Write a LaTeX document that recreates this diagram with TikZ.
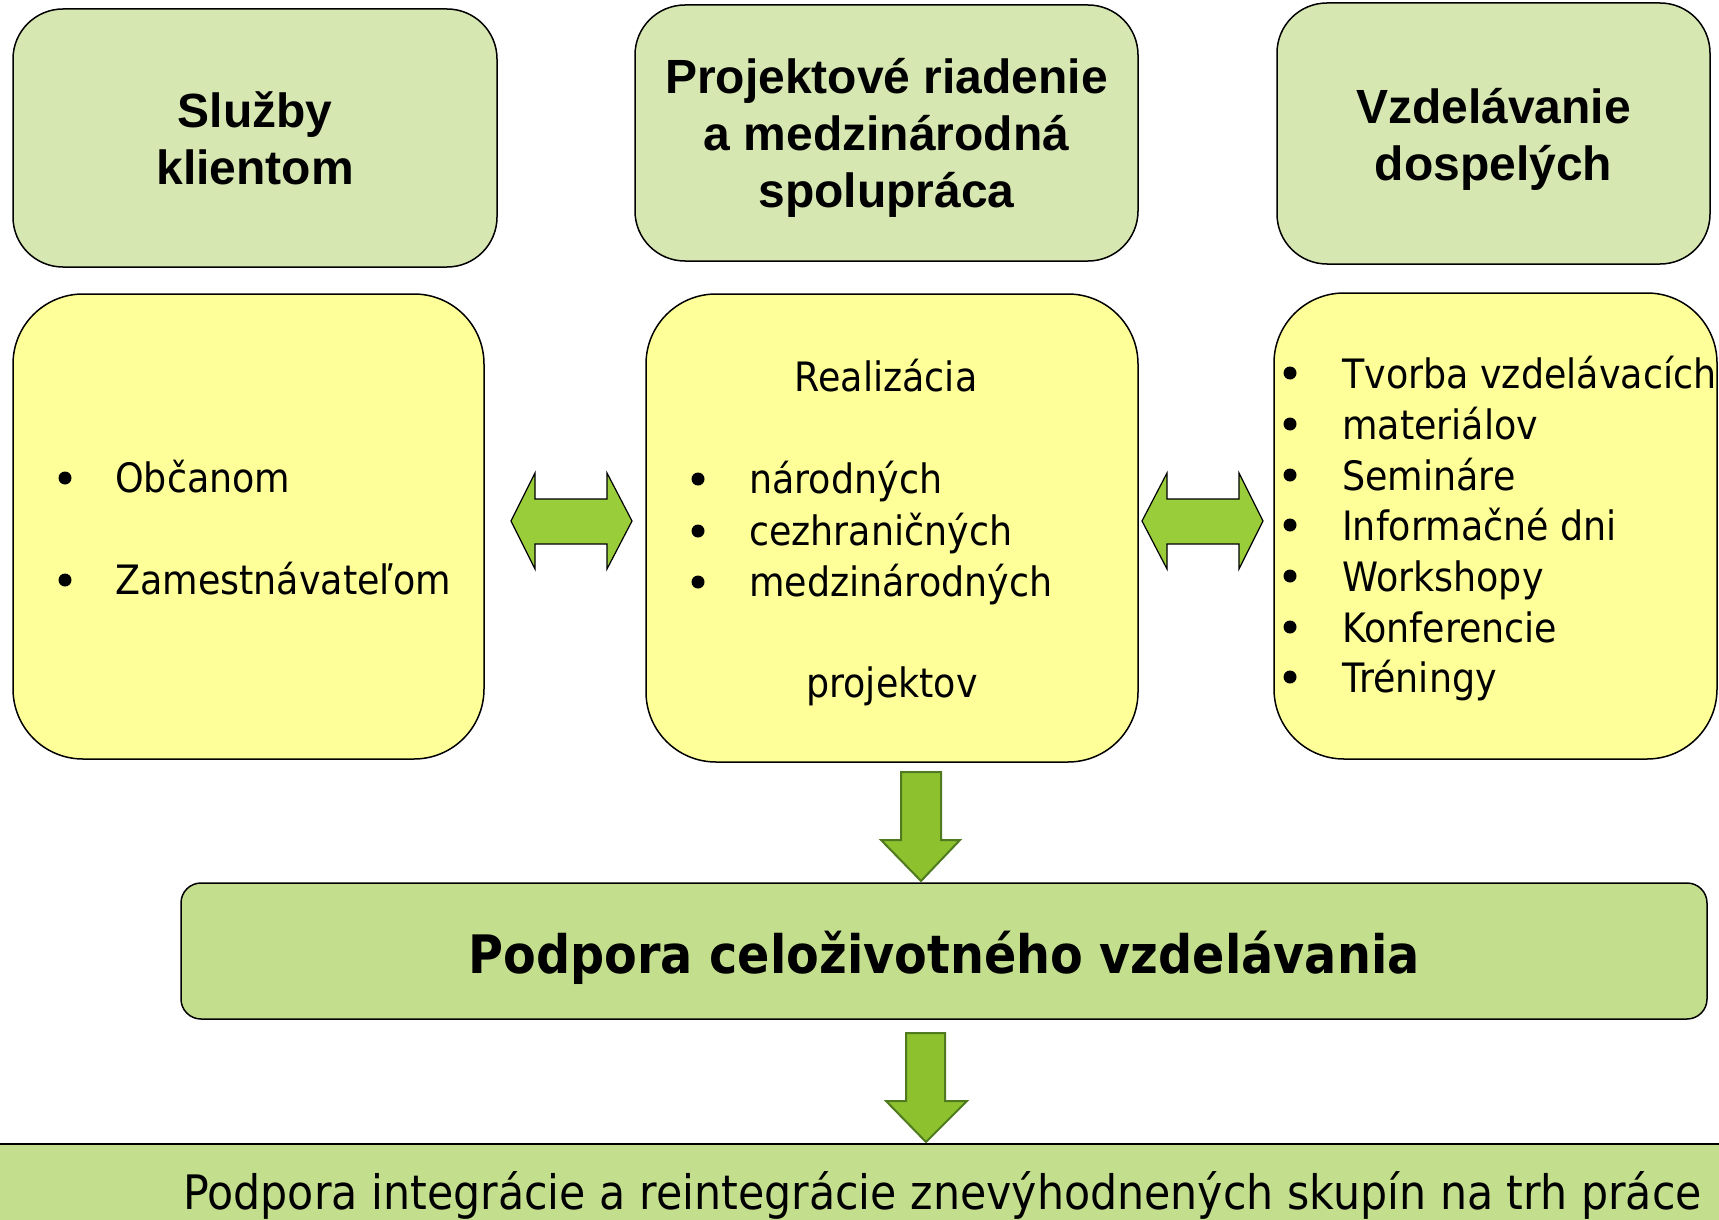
\documentclass[tikz,border=0pt]{standalone}
\usepackage{fontspec}
\setmainfont{DejaVu Sans}[FakeStretch=0.9]
\newfontfamily\arialfont{Liberation Sans}
\definecolor{topgreen}{HTML}{D7E7B1}
\definecolor{paleyellow}{HTML}{FFFF99}
\definecolor{midgreen}{HTML}{C3DF8D}
\definecolor{limegreen}{HTML}{9ACD3A}
\definecolor{arrowgreen}{HTML}{8DC12E}
\definecolor{arrowedge}{HTML}{4F7A1F}

\begin{document}
\begin{tikzpicture}[x=1pt, y=-1pt,
    topbox/.style={draw, line width=1.5pt, rounded corners=50pt, fill=topgreen},
    toptext/.style={align=center, font=\arialfont\bfseries\fontsize{48}{57}\selectfont},
    yellowbox/.style={draw, line width=1.5pt, rounded corners=70pt, fill=paleyellow},
    midbox/.style={draw, line width=1.5pt, rounded corners=20pt, fill=midgreen},
    item/.style={anchor=base west, inner sep=0pt, font=\fontsize{40.5}{48}\selectfont},
    sidearrow/.style={draw, line width=1.2pt, fill=limegreen, line join=miter},
    downarrow/.style={draw=arrowedge, line width=2pt, fill=arrowgreen, line join=miter}]
    \useasboundingbox (0,0) rectangle (1719,1220);

    % top row
    \node[topbox, minimum width=484, minimum height=258] (sluzby) at (255,138) {};
    \node[topbox, minimum width=503, minimum height=256] (projekt) at (886.5,133) {};
    \node[topbox, minimum width=433, minimum height=261] (vzdel) at (1493.5,133.5) {};
    \node[toptext] (sluzbytext) at (255,138) {Služby\\klientom};
    \node[toptext] (projekttext) at (886.5,137.5) {Projektové riadenie\\a medzinárodná\\spolupráca};
    \node[toptext] (vzdeltext) at (1493.5,139) {Vzdelávanie\\dospelých};

    % yellow boxes
    \node[yellowbox, minimum width=471, minimum height=465] (klienti) at (248.5,526.5) {};
    \node[yellowbox, minimum width=492, minimum height=468] (realiz) at (892,528) {};
    \node[yellowbox, minimum width=443, minimum height=466] (aktivity) at (1495.5,526) {};

    \fill (65,478) circle (6.5pt);
    \fill (65,580) circle (6.5pt);
    \node[item] (obcanom) at (115,492) {Občanom};
    \node[item] (zamest) at (115,594) {Zamestnávateľom};

    \node[item, anchor=base] (realtext) at (886,391) {Realizácia};
    \fill (698,479) circle (6.5pt);
    \fill (698,531) circle (6.5pt);
    \fill (698,582) circle (6.5pt);
    \node[item] (narodnych) at (749,493) {národných};
    \node[item] (cezhr) at (749,545) {cezhraničných};
    \node[item] (medzin) at (749,596) {medzinárodných};
    \node[item, anchor=base] (projtext) at (892,697) {projektov};

    \fill (1290,373) circle (6.5pt);
    \fill (1290,424) circle (6.5pt);
    \fill (1290,475) circle (6.5pt);
    \fill (1290,525) circle (6.5pt);
    \fill (1290,576) circle (6.5pt);
    \fill (1290,627) circle (6.5pt);
    \fill (1290,677) circle (6.5pt);
    \node[item] (tvorba) at (1342,388) {Tvorba vzdelávacích};
    \node[item] (materialy) at (1342,439) {materiálov};
    \node[item] (seminare) at (1342,490) {Semináre};
    \node[item] (infodni) at (1342,540) {Informačné dni};
    \node[item] (workshopy) at (1342,591) {Workshopy};
    \node[item] (konf) at (1342,642) {Konferencie};
    \node[item] (treningy) at (1342,692) {Tréningy};

    % arrows between the boxes
    \draw[sidearrow] (511,521) -- (535,473) -- (535,499) -- (607,499) -- (607,473) -- (632,521)
        -- (607,569) -- (607,544) -- (535,544) -- (535,569) -- cycle;
    \draw[sidearrow] (1142,521) -- (1167,473) -- (1167,499) -- (1239,499) -- (1239,473) -- (1263,521)
        -- (1239,569) -- (1239,544) -- (1167,544) -- (1167,569) -- cycle;

    % lower part
    \node[midbox, minimum width=1526, minimum height=136] (celo) at (944,951) {};
    \node[font=\bfseries\fontsize{53}{60}\selectfont] (celotext) at (944,957.5) {Podpora celoživotného vzdelávania};
    \node[midbox, rounded corners=0pt, minimum width=1760, minimum height=140, anchor=north west] (integ) at (-20,1143) {};
    \node[item] (integtext) at (183,1209) {\fontsize{47.5}{56}\selectfont Podpora integrácie a reintegrácie znevýhodnených skupín na trh práce};

    \draw[downarrow] (901,772) -- (941,772) -- (941,840) -- (960,840) -- (921,881) -- (881,840) -- (901,840) -- cycle;
    \draw[downarrow] (906,1033) -- (945,1033) -- (945,1101) -- (967,1101) -- (926,1142) -- (886,1101) -- (906,1101) -- cycle;
\end{tikzpicture}
\end{document}
